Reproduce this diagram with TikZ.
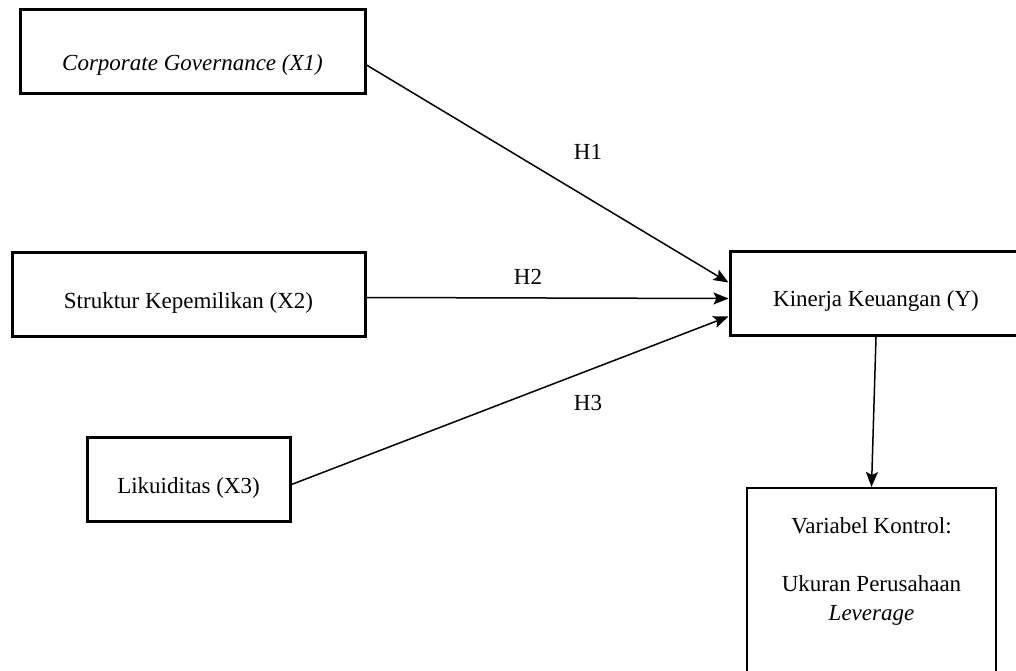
\documentclass[tikz,border=0pt]{standalone}
\usepackage{fontspec}
\setmainfont{Liberation Serif}
\usepackage{tikz}
\usetikzlibrary{arrows.meta}

\begin{document}
\begin{tikzpicture}[x=1pt, y=-1pt,
  font=\fontsize{23}{29}\selectfont,
  varbox/.style={draw, line width=3pt, inner sep=0pt, minimum height=84pt, text height=#1, text depth=0pt},
  varbox/.default=27pt,
  ctrlbox/.style={draw, line width=1.5pt, inner sep=0pt, minimum width=249pt, minimum height=240pt},
  hyparrow/.style={line width=1.5pt, -{Stealth[length=15pt, width=12pt, inset=3pt]}}]
\useasboundingbox (0,0) rectangle (1016,671);
\clip (0,0) rectangle (1016,671);

% Variables
\node[varbox=38pt, minimum width=345pt] (x1) at (192.5,52) {\textit{Corporate Governance (X1)}};
\node[varbox, minimum width=353pt] (x2) at (188.5,294.5) {Struktur Kepemilikan (X2)};
\node[varbox, minimum width=203pt] (x3) at (188.5,479.5) {Likuiditas (X3)};
\node[varbox=25pt, minimum width=292pt] (y) at (876,293.5) {Kinerja Keuangan (Y)};

% Control variables
\node[ctrlbox, anchor=north] (ctrl) at (871.5,487) {};
\node[align=center] (ctrltxt) at (871.5,571) {Variabel Kontrol:\\[29pt]Ukuran Perusahaan\\\textit{Leverage}};

% Hypotheses
\draw[hyparrow] ([yshift=-13pt]x1.east) -- ([yshift=11pt]y.west);
\draw[hyparrow] ([yshift=-3pt]x2.east) -- ([yshift=-5pt]y.west);
\draw[hyparrow] ([yshift=-5pt]x3.east) -- ([yshift=-23pt]y.west);
\draw[hyparrow] (y.south) -- (ctrl.north);

% Labels
\node (h1) at (588,152) {H1};
\node (h2) at (528,277) {H2};
\node (h3) at (588,403) {H3};
\end{tikzpicture}
\end{document}
